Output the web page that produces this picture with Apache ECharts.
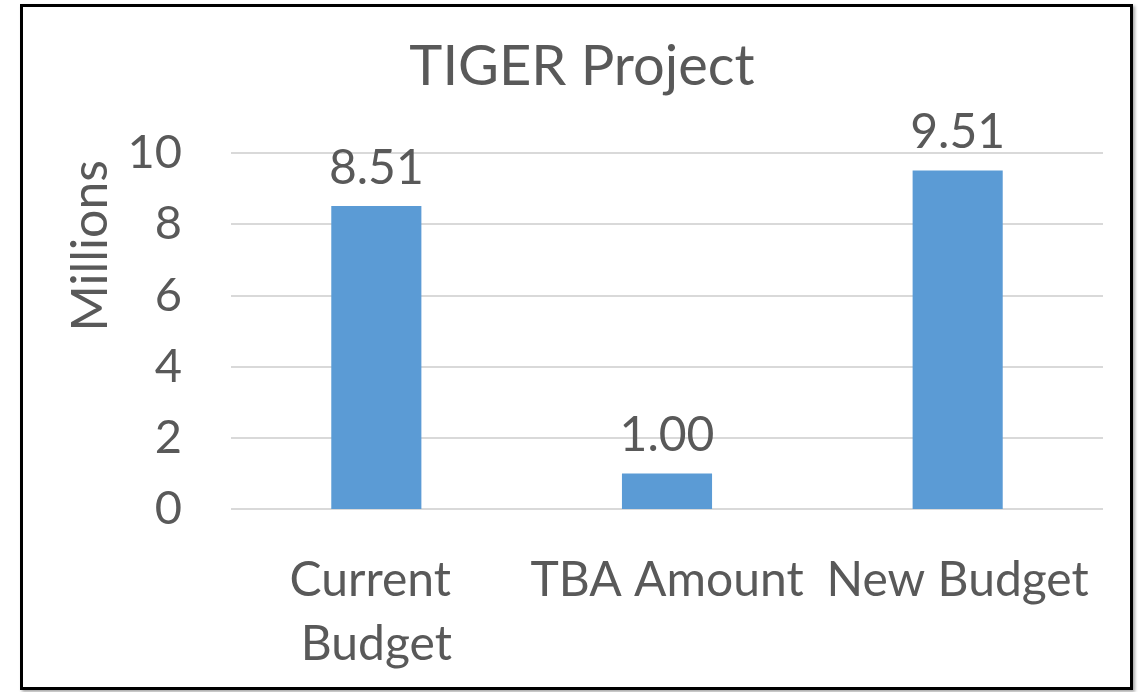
<!DOCTYPE html>
<html>
<head>
<meta charset="utf-8">
<script src="https://cdn.jsdelivr.net/npm/echarts@6/dist/echarts.min.js"></script>
<style>
  html, body { margin: 0; padding: 0; background: #fff; }
  #frame {
    position: absolute; left: 20px; top: 4px;
    width: 1107px; height: 680px;
    border: 3px solid #000;
    box-shadow: 2px 2px 3px rgba(0,0,0,0.35);
  }
  #chart { position: absolute; left: 0; top: 0; width: 1139px; height: 692px; }
</style>
</head>
<body>
<div id="frame"></div>
<div id="chart"></div>
<script>
// data
var categories = ['Current Budget', 'TBA Amount', 'New Budget']
var values = [8.51, 1.00, 9.51]
var yTicks = { min: 0, max: 10, interval: 2 }

var textColor = '#595959'
var fontFam = 'Lato, sans-serif'

var chart = echarts.init(document.getElementById('chart'))
chart.setOption({
  animation: false,
  title: {
    text: 'TIGER Project',
    left: 577,
    top: 34,
    textAlign: 'center',
    textStyle: { color: textColor, fontFamily: fontFam, fontSize: 56, fontWeight: 'normal' }
  },
  grid: { left: 231, right: 36, top: 153, bottom: 183 },
  graphic: [{
    type: 'text',
    left: 66,
    top: 160,
    rotation: Math.PI / 2,
    style: { text: 'Millions', fill: textColor, font: '50px ' + fontFam }
  }],
  xAxis: {
    type: 'category',
    data: categories,
    axisLine: { show: false },
    axisTick: { show: false },
    axisLabel: {
      interval: 0,
      margin: 40,
      color: textColor,
      fontFamily: fontFam,
      fontSize: 48,
      lineHeight: 64,
      width: 288,
      overflow: 'break'
    }
  },
  yAxis: {
    type: 'value',
    min: yTicks.min,
    max: yTicks.max,
    interval: yTicks.interval,
    axisLine: { show: false },
    axisTick: { show: false },
    splitLine: { lineStyle: { color: '#d9d9d9', width: 2 } },
    axisLabel: { margin: 49, color: textColor, fontFamily: fontFam, fontSize: 47 }
  },
  series: [{
    type: 'bar',
    data: values,
    barWidth: '31%',
    itemStyle: { color: '#5b9bd5' },
    label: {
      show: true,
      position: 'top',
      distance: 14,
      color: textColor,
      fontFamily: fontFam,
      fontSize: 48,
      formatter: function (p) { return p.value.toFixed(2) }
    }
  }]
})
</script>
</body>
</html>
